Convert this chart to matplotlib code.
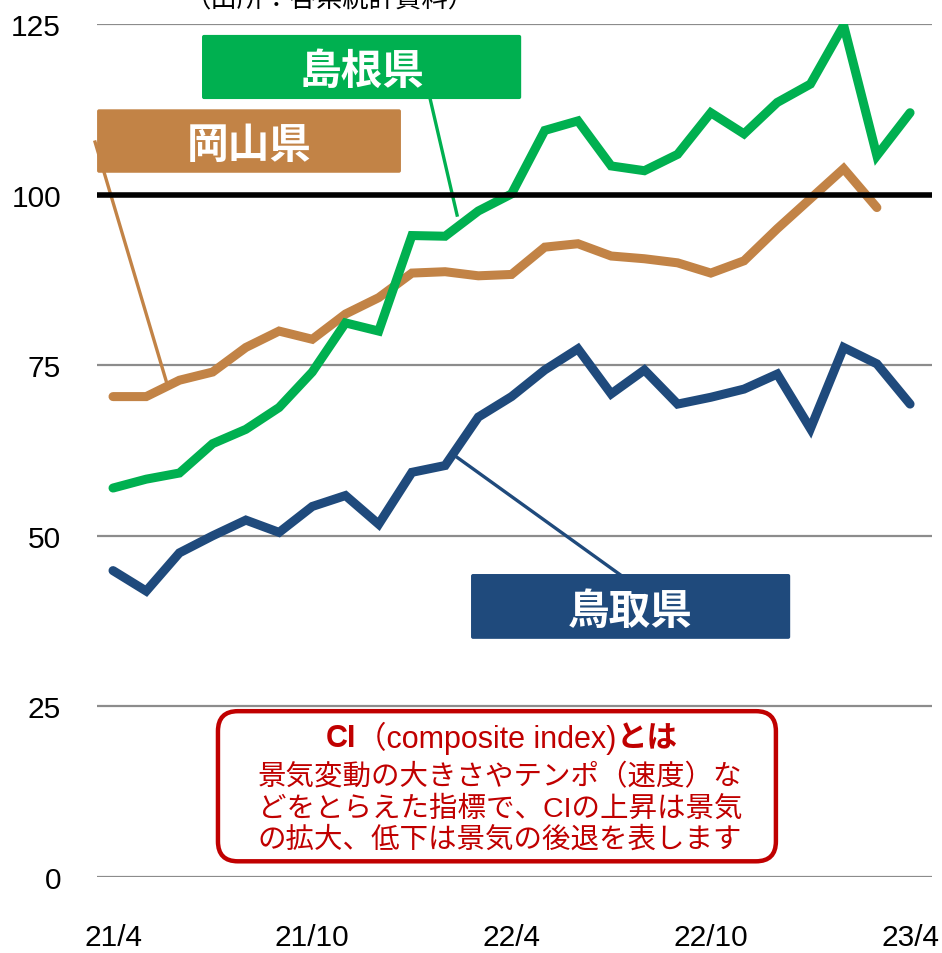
#Import libraries
import matplotlib.pyplot as plt
from matplotlib.patches import FancyBboxPatch

plt.rcParams['font.family'] = ['Liberation Sans', 'Noto Sans CJK JP']

# months 21/4 .. 23/4
months = list(range(25))
tick_pos = [0, 6, 12, 18, 24]
tick_labels = ['21/4', '21/10', '22/4', '22/10', '23/4']

# CI values
shimane = [57.0, 58.3, 59.2, 63.5, 65.6, 68.8, 74.0, 81.2, 80.0, 94.0, 93.9, 97.6,
           100.1, 109.4, 110.8, 104.2, 103.5, 105.9, 112.0, 108.9, 113.5, 116.2,
           124.8, 105.7, 112.0]
okayama = [70.4, 70.4, 72.8, 74.0, 77.6, 80.0, 78.8, 82.5, 84.9, 88.5, 88.7, 88.1,
           88.3, 92.3, 92.8, 91.0, 90.6, 90.0, 88.5, 90.3, 95.0, 99.4, 103.8, 98.1]
tottori = [44.9, 41.9, 47.5, 50.0, 52.3, 50.5, 54.3, 55.9, 51.7, 59.3, 60.3, 67.4,
           70.4, 74.3, 77.4, 70.8, 74.3, 69.3, 70.3, 71.5, 73.7, 65.7, 77.6, 75.2,
           69.3]

green = '#00B050'
brown = '#C28346'
navy = '#1F4A7C'
red = '#C00000'

fig = plt.figure(figsize=(9.42, 9.54), dpi=100)
ax = fig.add_axes([97/942, 1-878/954, 835/942, 853/954])
ax.set_xlim(-0.482, 24.66)
ax.set_ylim(0, 125)
for s in ax.spines.values():
    s.set_visible(False)

# grid lines, 100 is the thick black one
for g in [0, 25, 50, 75, 125]:
    ax.axhline(g, color='#8C8C8C', lw=1.6, zorder=1)
ax.axhline(100, color='black', lw=4, zorder=5)

ax.plot(months[:len(okayama)], okayama, color=brown, lw=6.5,
        solid_capstyle='round', solid_joinstyle='miter', zorder=2)
ax.plot(months, shimane, color=green, lw=6.5,
        solid_capstyle='round', solid_joinstyle='miter', zorder=3)
ax.plot(months, tottori, color=navy, lw=6.5,
        solid_capstyle='round', solid_joinstyle='miter', zorder=3)

ax.set_yticks([0, 25, 50, 75, 100, 125])
ax.set_xticks(tick_pos)
ax.set_xticklabels(tick_labels)
ax.tick_params(axis='y', length=0, pad=26, labelsize=21.5)
ax.tick_params(axis='x', length=0, pad=33, labelsize=21.5)

# leader lines
ax.plot([9.55, 10.36], [114.0, 97.0], color=green, lw=2.4, zorder=4)
ax.plot([-0.54, 1.6], [107.7, 72.7], color=brown, lw=2.4, zorder=4, clip_on=False)
ax.plot([10.36, 15.27], [61.5, 44.3], color=navy, lw=2.4, zorder=4)

# name boxes
def name_box(x0, x1, y0, y1, name, color):
    ax.add_patch(FancyBboxPatch((x0, y0), x1-x0, y1-y0, boxstyle='round,pad=0,rounding_size=0.06',
                                mutation_aspect=4.87, fc=color, ec='none', zorder=6, clip_on=False))
    ax.text((x0+x1)/2, (y0+y1)/2 - 0.75, name, color='white', fontsize=30, fontweight='bold',
            ha='center', va='center', zorder=7)

name_box(2.68, 12.29, 114.0, 123.4, '島根県', green)
name_box(-0.48, 8.67, 103.2, 112.5, '岡山県', brown)
name_box(10.78, 20.39, 34.9, 44.4, '鳥取県', navy)

# CI explanation box
ax.add_patch(FancyBboxPatch((3.16, 2.3), 16.8, 22.0, boxstyle='round,pad=0,rounding_size=0.6',
                            mutation_aspect=4.87, fc='white', ec=red, lw=3.2, zorder=6))
mid = ax.text(11.25, 20.4, '（composite index)', color=red, fontsize=22,
              ha='center', va='center', zorder=7)
ax.annotate('CI', xy=(0, 0.5), xycoords=mid, color=red, fontsize=22, fontweight='bold',
            ha='right', va='center', zorder=7)
ax.annotate('とは', xy=(1, 0.5), xycoords=mid, color=red, fontsize=22, fontweight='bold',
            ha='left', va='center', zorder=7)
ci_lines = ['景気変動の大きさやテンポ（速度）な',
            'どをとらえた指標で、CIの上昇は景気',
            'の拡大、低下は景気の後退を表します']
for i, t in enumerate(ci_lines):
    ax.text(11.65, 14.7 - i*4.62, t, color=red, fontsize=20.5, ha='center', va='center', zorder=7)

# source note, cut at the top edge as in the original
fig.text(330/942, 1, '（出所：各県統計資料）', fontsize=19, ha='center', va='center')

plt.savefig('out.png', dpi=100)
